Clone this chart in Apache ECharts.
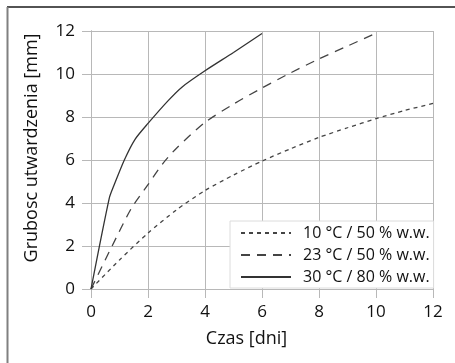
<!DOCTYPE html>
<html>
<head>
<meta charset="utf-8">
<script src="https://cdn.jsdelivr.net/npm/echarts@6/dist/echarts.min.js"></script>
<style>html,body{margin:0;padding:0;background:#fff}#c{width:455px;height:363px}</style>
</head>
<body>
<div id="c"></div>
<script>
const seriesNames = ['10 °C / 50 % w.w.', '23 °C / 50 % w.w.', '30 °C / 80 % w.w.'];
const xTicks = [0, 2, 4, 6, 8, 10, 12];
const yTicks = [0, 2, 4, 6, 8, 10, 12];
const s10 = [[0,0],[1,1.35],[2,2.6],[3,3.68],[4,4.58],[5,5.3],[6,5.95],[7,6.52],[8,7.05],[9,7.5],[10,7.92],[11,8.3],[12,8.63]];
const s23 = [[0,0],[0.74,2],[1.42,3.76],[2,4.85],[2.5,5.8],[3,6.55],[4,7.75],[5,8.6],[6,9.35],[7,10.05],[8,10.7],[9,11.3],[10,11.9]];
const s30 = [[0,0],[0.64,4.22],[0.8,4.8],[1.17,6.0],[1.54,6.95],[2,7.7],[2.7,8.75],[3.2,9.4],[4,10.15],[5,11.0],[6,11.88]];

const FONT = 'Open Sans';
const gridColor = '#b8b8b8';
const chart = echarts.init(document.getElementById('c'), null, {renderer: 'canvas'});
function axisCommon() {
  return {
    type: 'value', min: 0, max: 12, interval: 2,
    axisLine: {show: true, lineStyle: {color: '#a0a0a0', width: 1}},
    axisTick: {show: true, length: 9, lineStyle: {color: gridColor}},
    splitLine: {show: true, lineStyle: {color: gridColor, width: 1}},
  };
}
chart.setOption({
  animation: false,
  textStyle: {fontFamily: FONT},
  grid: {left: 91, right: 22, top: 31, bottom: 74},
  xAxis: [
    Object.assign(axisCommon(), {
      position: 'bottom',
      name: 'Czas [dni]', nameLocation: 'middle', nameGap: 41,
      nameTextStyle: {fontFamily: FONT, fontSize: 18, color: '#111', padding: [0, 31, 0, 0]},
      axisLabel: {margin: 15, fontFamily: FONT, fontSize: 17, color: '#111',
        formatter: v => xTicks.includes(v) ? String(v) : ''}
    }),
    Object.assign(axisCommon(), {
      position: 'top', axisLabel: {show: false}, splitLine: {show: false},
      axisLine: {show: true, lineStyle: {color: gridColor}}
    })
  ],
  yAxis: [
    Object.assign(axisCommon(), {
      position: 'left',
      name: 'Grubosc utwardzenia [mm]', nameLocation: 'middle', nameGap: 50,
      nameTextStyle: {fontFamily: FONT, fontSize: 18, color: '#111', padding: [0, 0, 0, 24]},
      axisLabel: {margin: 16, fontFamily: FONT, fontSize: 17, color: '#111',
        formatter: v => yTicks.includes(v) ? String(v) : ''}
    }),
    Object.assign(axisCommon(), {
      position: 'right', axisLabel: {show: false}, splitLine: {show: false},
      axisLine: {show: true, lineStyle: {color: gridColor}}
    })
  ],
  legend: {
    orient: 'vertical', left: 230, top: 221,
    backgroundColor: '#fff', borderColor: '#dcdcdc', borderWidth: 1,
    padding: [4, 4, 3, 10], itemGap: 6, itemWidth: 50, itemHeight: 15,
    itemStyle: {opacity: 0},
    textStyle: {fontFamily: FONT, fontSize: 16, color: '#111', padding: [0, 0, 0, 7]},
    data: seriesNames
  },
  series: [
    {name: seriesNames[0], type: 'line', data: s10, smooth: 0.25, symbol: 'none',
      lineStyle: {color: '#444', width: 1.3, type: [4, 4]}, itemStyle: {color: '#444'}},
    {name: seriesNames[1], type: 'line', data: s23, smooth: 0.25, symbol: 'none',
      lineStyle: {color: '#444', width: 1.3, type: [9, 7]}, itemStyle: {color: '#444'}},
    {name: seriesNames[2], type: 'line', data: s30, smooth: 0.25, symbol: 'none',
      lineStyle: {color: '#333', width: 1.3, type: 'solid'}, itemStyle: {color: '#333'}}
  ],
  graphic: [
    {type: 'line', shape: {x1: 7, y1: 7, x2: 455, y2: 7}, style: {stroke: '#1a1a1a', lineWidth: 1.5}, z: 100},
    {type: 'line', shape: {x1: 7.5, y1: 7, x2: 7.5, y2: 363}, style: {stroke: '#808080', lineWidth: 2}, z: 100}
  ]
});
</script>
</body>
</html>
